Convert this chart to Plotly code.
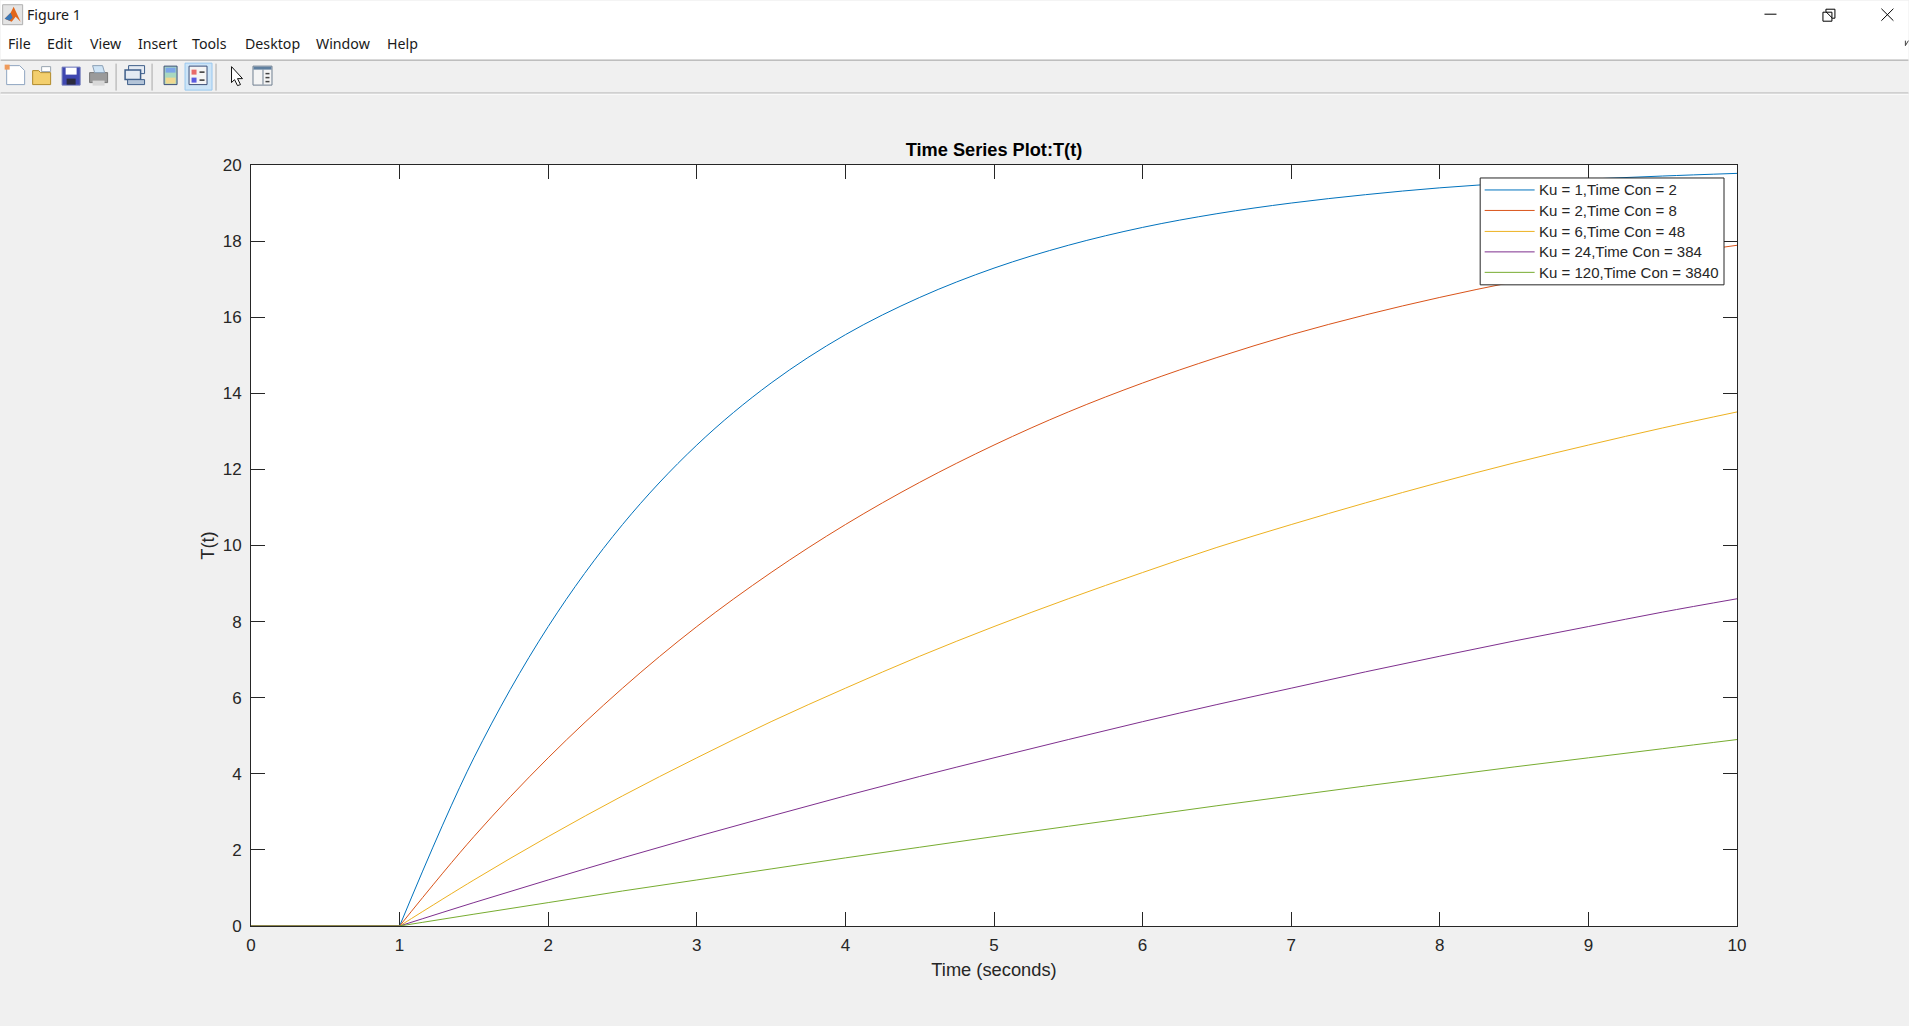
import plotly.graph_objects as go

# ---- data ----
flat_time = [0, 1]
flat_value = [0, 0]
time_s = [1, 1.5, 2, 2.5, 3, 3.5, 4, 4.5, 5, 5.5, 6, 6.5, 7, 7.5, 8, 8.5, 9, 9.5, 10]
ku1 = [0, 4.42, 7.87, 10.55, 12.64, 14.27, 15.54,
       16.52, 17.29, 17.89, 18.36, 18.72, 19.00, 19.22, 19.40, 19.53, 19.63, 19.71, 19.78]
ku2 = [0, 2.35, 4.42, 6.25, 7.87, 9.29, 10.55,
       11.66, 12.64, 13.51, 14.27, 14.94, 15.54, 16.06, 16.52, 16.93, 17.29, 17.61, 17.89]
ku6 = [0, 1.21, 2.35, 3.42, 4.42, 5.37, 6.25,
       7.09, 7.87, 8.60, 9.29, 9.95, 10.55, 11.12, 11.66, 12.17, 12.64, 13.09, 13.51]
ku24 = [0, 0.615, 1.21, 1.79, 2.35, 2.89, 3.42,
        3.93, 4.42, 4.90, 5.37, 5.82, 6.25, 6.68, 7.09, 7.49, 7.87, 8.25, 8.60]
ku120 = [0, 0.31, 0.615, 0.92, 1.21, 1.50, 1.79,
         2.07, 2.35, 2.62, 2.89, 3.16, 3.42, 3.68, 3.93, 4.18, 4.42, 4.66, 4.90]
series_names = ["Ku = 1,Time Con = 2", "Ku = 2,Time Con = 8", "Ku = 6,Time Con = 48",
                "Ku = 24,Time Con = 384", "Ku = 120,Time Con = 3840"]
series_values = [ku1, ku2, ku6, ku24, ku120]
series_colors = ["#0072BD", "#D95319", "#EDB120", "#7E2F8E", "#77AC30"]
x_ticks = [0, 1, 2, 3, 4, 5, 6, 7, 8, 9, 10]
y_ticks = [0, 2, 4, 6, 8, 10, 12, 14, 16, 18, 20]
menu_labels = ["File", "Edit", "View", "Insert", "Tools", "Desktop", "Window", "Help"]

# ---- layout geometry ----
W, H = 1909, 1026
L, R, T, B = 250.5, 1737.5, 164.5, 926.5
INK = "#262626"
ARIAL = "Liberation Sans, Arial, sans-serif"
UI = "Noto Sans, Open Sans, sans-serif"


def px(x):
    return (x - L) / (R - L)


def py(y):
    return (B - y) / (B - T)


shapes, annos = [], []


def rect(x0, y0, x1, y1, fill=None, line=None, lw=1, layer="below"):
    shapes.append(dict(type="rect", xref="paper", yref="paper", layer=layer,
                       x0=px(x0), x1=px(x1), y0=py(y0), y1=py(y1),
                       fillcolor=fill or "rgba(0,0,0,0)",
                       line=dict(color=line or "rgba(0,0,0,0)", width=lw if line else 0)))


def seg(x0, y0, x1, y1, color="#000000", lw=1, layer="below"):
    shapes.append(dict(type="line", xref="paper", yref="paper", layer=layer,
                       x0=px(x0), x1=px(x1), y0=py(y0), y1=py(y1),
                       line=dict(color=color, width=lw)))


def poly(points, fill=None, line=None, lw=1):
    path = "M" + " L".join(f"{px(a):.5f},{py(b):.5f}" for a, b in points) + " Z"
    shapes.append(dict(type="path", xref="paper", yref="paper", layer="below", path=path,
                       fillcolor=fill or "rgba(0,0,0,0)",
                       line=dict(color=line or "rgba(0,0,0,0)", width=lw if line else 0)))


def label(x, y, text, size=14.2, font=UI, color="#1a1a1a", xanchor="left"):
    annos.append(dict(xref="paper", yref="paper", x=px(x), y=py(y), text=text, showarrow=False,
                      xanchor=xanchor, yanchor="middle", align="left",
                      font=dict(family=font, size=size, color=color)))


# window chrome
rect(0, 0, W, 59, fill="#ffffff")
seg(0, 59.5, W, 59.5, "#a0a0a0", 1)
seg(0, 92.5, W, 92.5, "#a0a0a0", 1)
seg(0, 93.5, W, 93.5, "#ffffff", 1)
label(24, 13.5, "Figure 1")
for name, mx in zip(menu_labels, [5.5, 44.5, 87, 135, 189, 242, 314, 385]):
    label(mx, 43, name)

# MATLAB logo
rect(2, 4, 22, 24, fill="#e4e4e4", line="#b0b0b0")
poly([(4, 18), (10, 12), (13, 6), (20, 21), (15, 16), (11, 21)], fill="#e2661a")
poly([(4, 18), (10, 12), (12, 17), (9, 20)], fill="#3a78b8")

# window buttons
seg(1765, 13.5, 1777, 13.5, "#000000", 1)
rect(1823.5, 11.5, 1832.5, 20.5, fill="#ffffff", line="#000000")
poly([(1826.5, 11), (1826.5, 8.5), (1835.5, 8.5), (1835.5, 17.5), (1833, 17.5)], line="#000000")
seg(1882, 8, 1894, 20)
seg(1894, 8, 1882, 20)
seg(1906, 45, 1909, 40, "#444444", 1)
seg(1906, 40, 1906, 45, "#444444", 1)

# toolbar icons
poly([(6, 65), (19, 65), (24, 70), (24, 84), (6, 84)], fill="#ffffff", line="#8fa5c0")
rect(4, 64, 9, 69, fill="#ef9a5a")
poly([(32, 70), (38, 70), (40, 72), (50, 72), (50, 84), (32, 84)], fill="#f3cf6d", line="#b08a2a")
poly([(41, 66), (50, 66), (50, 71), (41, 71)], fill="#ffffff", line="#9aa5b0")
rect(61.5, 66.5, 79.5, 84.5, fill="#3f47b0", line="#6d76b8")
rect(65, 67, 76, 74, fill="#ffffff")
rect(66, 78, 75, 84, fill="#2b2b3f")
rect(89, 72, 107, 82, fill="#9a9a9a", line="#777777")
poly([(92, 65), (102, 65), (104, 72), (94, 72)], fill="#cfe4f5", line="#8ba0b5")
rect(92, 80, 104, 85, fill="#d8d8d8")
seg(115.5, 63, 115.5, 90, "#a8a8a8")
rect(128, 65, 144, 73, fill="#e4eaf2", line="#3f5f8a")
rect(124.5, 69.5, 140, 79, fill="#e4eaf2", line="#3f5f8a", lw=1.5)
rect(127, 79, 144, 84, fill="#b3c4d8", line="#3f5f8a")
seg(151.5, 63, 151.5, 90, "#a8a8a8")
rect(163.5, 65.5, 176.5, 84, fill="#a8d8c0", line="#3d4f78")
rect(165, 67, 175, 72, fill="#7ca5e8")
rect(165, 77, 175, 83, fill="#f0d890")
rect(184.5, 62.5, 211.5, 89.5, fill="#cce4f7", line="#99c8ef")
rect(188.5, 65.5, 206.5, 84, fill="#f4f4f4", line="#3d4f78")
rect(191, 69, 196, 74, fill="#e86a6a")
rect(191, 77, 196, 82, fill="#5a5ae0")
seg(199, 71.5, 204, 71.5, "#333333", 1.5)
seg(199, 79.5, 204, 79.5, "#333333", 1.5)
seg(215.5, 63, 215.5, 90, "#a8a8a8")
poly([(231, 66), (242, 78), (237, 78), (240, 84), (237, 85), (234, 79), (231, 82)],
     fill="#ffffff", line="#111111")
rect(252.5, 65.5, 271.5, 84.5, fill="#f4f4f4", line="#6f7f90")
rect(253, 66, 271, 69, fill="#5f7f9f")
seg(262.5, 69, 262.5, 84, "#6f7f90")
for yy in (73, 77, 81):
    seg(265, yy, 269, yy, "#444444", 1.5)

# legend box (MATLAB rows are tighter than a native Plotly legend allows)
rect(1480.5, 177.5, 1724.5, 284.5, fill="#ffffff", line=INK, layer="above")
for name, color, row_y in zip(series_names, series_colors, [189.5, 210, 231, 251.5, 272]):
    seg(1485, row_y, 1535, row_y, color, 1, layer="above")
    label(1537.5, row_y, name, size=15.0, font=ARIAL, color=INK)

fig = go.Figure()
for name, vals, color in zip(series_names, series_values, series_colors):
    fig.add_trace(go.Scatter(x=flat_time, y=flat_value, mode="lines", showlegend=False,
                             cliponaxis=False, hoverinfo="skip", line=dict(color=color, width=1)))
    fig.add_trace(go.Scatter(x=time_s, y=vals, name=name, mode="lines", showlegend=False,
                             cliponaxis=False, line=dict(color=color, width=1, shape="spline")))

axis_common = dict(showline=True, mirror="allticks", linecolor=INK, linewidth=1,
                   ticks="inside", ticklen=14, tickwidth=1, tickcolor=INK, layer="below traces",
                   showgrid=False, zeroline=False, tickfont=dict(family=ARIAL, size=17, color=INK))
fig.update_layout(
    width=W, height=H, autosize=False,
    paper_bgcolor="#f0f0f0", plot_bgcolor="#ffffff",
    margin=dict(l=L, r=W - R, t=T, b=H - B, pad=0),
    title=dict(text="<b>Time Series Plot:T(t)</b>", x=0.5, xref="paper", xanchor="center",
               y=1, yref="paper", yanchor="bottom", pad=dict(b=9),
               font=dict(family=ARIAL, size=18.2, color="#000000")),
    xaxis=dict(range=[0, 10], tickmode="array", tickvals=x_ticks, ticktext=[str(v) for v in x_ticks],
               ticklabelstandoff=4,
               title=dict(text="Time (seconds)", font=dict(family=ARIAL, size=18.3, color=INK), standoff=8),
               **axis_common),
    yaxis=dict(range=[0, 20], tickmode="array", tickvals=y_ticks, ticktext=[str(v) for v in y_ticks],
               ticklabelstandoff=5,
               title=dict(text="T(t)", font=dict(family=ARIAL, size=18.3, color=INK), standoff=3),
               **axis_common),
    shapes=shapes, annotations=annos, showlegend=False,
)

fig.write_html("out.html", config=dict(displayModeBar=False),
               post_script="document.body.style.margin='0';document.body.style.overflow='hidden';")
